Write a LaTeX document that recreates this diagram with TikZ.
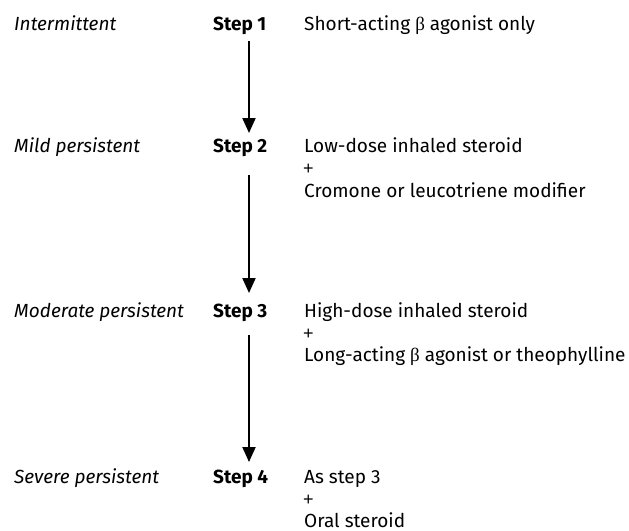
\documentclass[tikz,border=0pt]{standalone}
\usepackage{fontspec}
\setmainfont{Fira Sans}
\newfontfamily\betafont{Liberation Serif}
\newfontfamily\plusfont{Liberation Sans}
\usetikzlibrary{arrows.meta,calc}
\newcommand{\bet}{{\betafont β}}
\begin{document}
\begin{tikzpicture}[x=1pt,y=-1pt,
  every node/.style={inner sep=0pt,anchor=base west,font=\fontsize{19}{22}\selectfont},
  sev/.style={font=\fontsize{19}{22}\selectfont\itshape},
  stepbox/.style={font=\fontsize{19}{22}\selectfont\bfseries},
  plus/.style={font=\fontsize{18}{22}\selectfont\plusfont},
  arr/.style={line width=2pt,-{Triangle[width=13pt,length=15pt]}}]
\useasboundingbox (0,0) rectangle (629,530);
% severity labels
\node[sev] (l1) at (14,30) {Intermittent};
\node[sev] (l2) at (14,152) {Mild persistent};
\node[sev] (l3) at (14,317) {Moderate persistent};
\node[sev] (l4) at (14,483) {Severe persistent};
% steps
\node[stepbox] (s1) at (213,30) {Step 1};
\node[stepbox] (s2) at (213,152) {Step 2};
\node[stepbox] (s3) at (213,317) {Step 3};
\node[stepbox] (s4) at (213,483) {Step 4};
% treatments
\node (t1) at (304,30) {Short-acting \bet{} agonist only};
\node (t2a) at (304,152) {Low-dose inhaled steroid};
\node[plus] (t2b) at (303,174.5) {+};
\node (t2c) at (304,197) {Cromone or leucotriene modifier};
\node (t3a) at (304,317) {High-dose inhaled steroid};
\node[plus] (t3b) at (303,339) {+};
\node (t3c) at (304,361) {Long-acting \bet{} agonist or theophylline};
\node (t4a) at (304,483) {As step 3};
\node[plus] (t4b) at (303,505) {+};
\node (t4c) at (304,527) {Oral steroid};
% arrows
\draw[arr] ($(s1.base west)+(36,11)$) -- ($(s2.base west)+(36,-19)$);
\draw[arr] ($(s2.base west)+(36,23)$) -- ($(s3.base west)+(36,-24)$);
\draw[arr] ($(s3.base west)+(36,18)$) -- ($(s4.base west)+(36,-21)$);
\end{tikzpicture}
\end{document}
